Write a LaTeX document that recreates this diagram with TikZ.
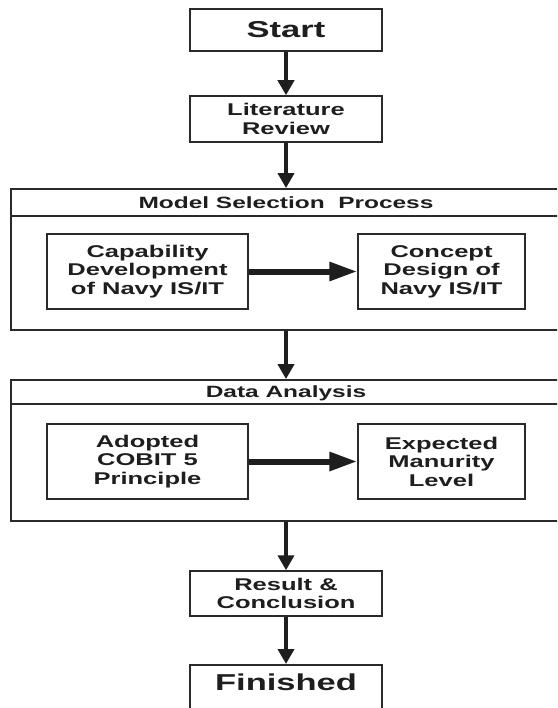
\documentclass[tikz,border=0pt]{standalone}
\usepackage{fontspec}
\setmainfont{Liberation Sans}[FakeStretch=1.5]
\usetikzlibrary{arrows.meta,calc}
\definecolor{ink}{HTML}{1E1E1E}
\definecolor{edge}{HTML}{2A2A2A}
\begin{document}
\begin{tikzpicture}[x=1pt,y=-1pt,
  box/.style={draw=edge,line width=1.5pt,fill=white,inner sep=0pt,align=center,
    text=ink,font=\fontsize{17}{18.5}\selectfont\bfseries},
  bigbox/.style={box,font=\fontsize{23}{25}\selectfont\bfseries},
  outer/.style={draw=edge,line width=1.8pt,fill=white,inner sep=0pt},
  head/.style={text=ink,inner sep=0pt,font=\fontsize{16.3}{18.5}\selectfont\bfseries},
  varrow/.style={draw=ink,line width=4.5pt,-{Triangle[length=15pt,width=16pt]}},
  harrow/.style={draw=ink,line width=6pt,-{Triangle[length=28pt,width=18pt]}}]
\useasboundingbox[fill=white] (0,0) rectangle (557,708);
\clip (0,0) rectangle (557,708);
% top
\node[bigbox,minimum width=192pt,minimum height=42pt] (start) at (286,30) {Start};
\node[box,minimum width=192pt,minimum height=46pt] (lit) at (286,119) {Literature\\Review};
% model selection process
\node[outer,minimum width=589pt,minimum height=141pt] (msp) at (305.5,259.5) {};
\draw[draw=edge,line width=1.5pt] ($(msp.north west)+(0,28)$) -- ($(msp.north east)+(0,28)$);
\node[head] (msph) at (286,203) {Model Selection\ \ Process};
\node[box,minimum width=201pt,minimum height=75pt] (cap) at (147.5,271.5) {Capability\\Development\\of Navy IS/IT};
\node[box,minimum width=167pt,minimum height=75pt] (con) at (441.5,271.5) {Concept\\Design of\\Navy IS/IT};
% data analysis
\node[outer,minimum width=589pt,minimum height=141pt] (da) at (305.5,450.5) {};
\draw[draw=edge,line width=1.5pt] ($(da.north west)+(0,25)$) -- ($(da.north east)+(0,25)$);
\node[head] (dah) at (286,393) {Data Analysis};
\node[box,minimum width=201pt,minimum height=75pt] (cob) at (147.5,461.5) {Adopted\\COBIT 5\\Principle};
\node[box,minimum width=167pt,minimum height=75pt] (exp) at (441.5,461.5) {Expected\\Manurity\\Level};
% bottom
\node[box,minimum width=192pt,minimum height=45pt] (res) at (286,593.5) {Result \&\\Conclusion};
\node[bigbox,minimum width=192pt,anchor=north,inner ysep=9pt,text height=16.5pt,text depth=36pt] (fin) at (286,664) {Finished};
% connectors
\draw[varrow] (start.south) -- (lit.north);
\draw[varrow] (lit.south) -- (lit.south |- msp.north);
\draw[harrow] (cap.east) -- (con.west);
\draw[varrow] (lit.south |- msp.south) -- (lit.south |- da.north);
\draw[harrow] (cob.east) -- (exp.west);
\draw[varrow] (lit.south |- da.south) -- (res.north);
\draw[varrow] (res.south) -- (fin.north);
\end{tikzpicture}
\end{document}
